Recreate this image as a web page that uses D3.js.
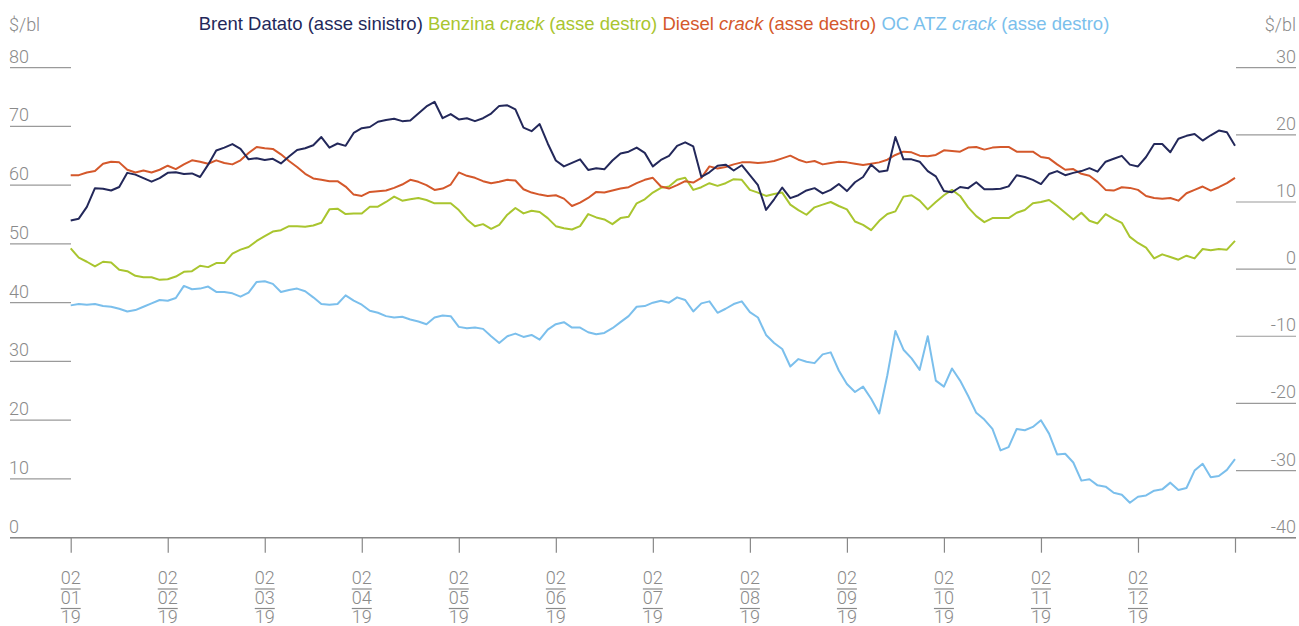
<!DOCTYPE html>
<html>
<head>
<meta charset="utf-8">
<style>
  body { margin: 0; background: #fff; }
  text { font-family: "Liberation Sans", Arial, sans-serif; }
  .ax { font-family: Roboto, "Liberation Sans", sans-serif; font-weight: 300; }
</style>
</head>
<body>
<div id="chart"></div>
<script src="https://cdnjs.cloudflare.com/ajax/libs/d3/7.8.5/d3.min.js"></script>
<script>
// month ticks (day / month / year)
var tickDays = ["02","02","02","02","02","02","02","02","02","02","02","02"];
var tickMonths = ["01","02","03","04","05","06","07","08","09","10","11","12"];
var tickYears = ["19","19","19","19","19","19","19","19","19","19","19","19"];
var leftTicks = [0, 10, 20, 30, 40, 50, 60, 70, 80];
var rightTicks = [-40, -30, -20, -10, 0, 10, 20, 30];

// samples every 1/12 of a month, 02/01/19 -> end of 2019
var brent = [54.0,54.3,56.3,59.5,59.4,59.1,59.7,62.1,61.8,61.2,60.6,61.2,
  62.1,62.2,61.9,62.0,61.4,63.5,65.9,66.4,67.0,66.2,64.4,64.6,
  64.3,64.5,63.7,64.9,66.0,66.3,66.8,68.2,66.4,67.1,66.7,68.9,
  69.7,69.9,70.8,71.1,71.3,70.9,71.0,72.2,73.4,74.2,71.4,72.1,
  71.2,71.4,70.9,71.4,72.2,73.5,73.6,72.9,69.8,69.2,70.4,67.1,
  64.2,63.2,63.8,64.4,62.6,62.9,62.7,64.2,65.4,65.7,66.4,65.5,
  63.2,64.3,65.0,66.7,67.3,66.6,61.4,62.2,63.3,63.5,62.5,63.4,
  61.7,60.0,55.8,57.6,59.6,57.8,58.3,59.1,59.5,58.6,59.2,60.2,
  59.0,60.5,61.4,63.5,62.3,62.5,68.2,64.4,64.4,64.0,62.4,61.5,
  59.0,58.8,59.7,59.5,60.5,59.3,59.3,59.4,59.8,61.7,61.4,60.9,
  60.2,61.9,62.4,61.7,62.1,62.4,62.9,62.3,64.0,64.5,65.0,63.5,
  63.2,64.8,67.0,67.0,65.6,67.9,68.4,68.7,67.6,68.5,69.3,69.0,66.7];

var benzina = [3.1,1.7,1.1,0.4,1.1,1.0,-0.1,-0.3,-1.0,-1.2,-1.2,-1.6,
  -1.5,-1.1,-0.4,-0.3,0.5,0.3,0.9,0.9,2.3,2.9,3.3,4.2,
  4.9,5.6,5.8,6.4,6.4,6.3,6.5,6.9,8.9,9.0,8.2,8.3,
  8.3,9.3,9.3,10.0,10.8,10.2,10.4,10.6,10.3,9.8,9.8,9.8,
  8.8,7.4,6.4,6.7,6.0,6.6,8.1,9.1,8.3,8.7,8.5,7.6,
  6.4,6.1,5.9,6.4,8.2,7.7,7.4,6.7,7.6,7.8,9.8,10.4,
  11.4,12.1,12.3,13.3,13.6,11.8,12.2,12.8,12.4,12.8,13.4,13.3,
  11.8,11.4,10.9,11.2,11.4,9.6,8.8,8.1,9.2,9.6,10.0,9.4,
  8.9,7.1,6.6,5.8,7.2,8.2,8.6,10.8,11.0,10.2,8.9,10.0,
  11.0,11.8,10.9,9.2,7.9,7.0,7.6,7.6,7.6,8.4,8.8,9.8,
  10.0,10.3,9.4,8.4,7.4,8.4,7.2,6.8,8.2,7.5,6.9,4.8,
  3.9,3.2,1.6,2.2,1.8,1.4,2.0,1.6,3.0,2.8,3.0,2.9,4.2];

var diesel = [14.0,14.0,14.4,14.6,15.7,16.0,15.9,14.8,14.4,14.7,14.4,14.8,
  15.4,14.9,15.6,16.2,16.0,15.7,16.2,15.8,15.6,16.2,17.3,18.2,
  18.0,17.9,17.1,16.1,15.2,14.2,13.5,13.3,13.1,13.1,12.3,11.1,
  10.9,11.5,11.6,11.7,12.1,12.6,13.3,13.0,12.5,11.8,12.0,12.6,
  14.4,13.9,13.6,13.1,12.8,13.0,13.3,13.2,11.9,11.4,11.1,10.9,
  11.0,10.5,9.4,9.9,10.6,11.5,11.4,11.7,12.0,12.2,12.8,13.3,
  13.6,12.3,12.0,12.5,13.1,12.9,13.6,15.3,15.0,15.2,15.6,15.9,
  15.9,15.8,15.9,16.1,16.5,16.9,16.3,15.9,16.1,15.6,15.8,16.0,
  15.9,15.7,15.5,15.7,15.9,16.3,17.0,17.5,17.4,16.9,16.8,17.0,
  17.7,17.6,17.5,18.1,18.2,17.8,18.1,18.2,18.2,17.5,17.5,17.5,
  16.7,16.5,15.6,14.8,14.9,14.2,13.9,13.0,11.8,11.7,12.2,12.1,
  11.8,10.9,10.6,10.5,10.6,10.2,11.3,11.8,12.3,11.7,12.2,12.8,13.6];

var ocAtz = [-5.4,-5.2,-5.3,-5.2,-5.5,-5.6,-5.9,-6.3,-6.1,-5.6,-5.1,-4.6,
  -4.7,-4.3,-2.5,-3.0,-2.9,-2.6,-3.4,-3.4,-3.6,-4.1,-3.5,-1.9,
  -1.8,-2.2,-3.4,-3.1,-2.9,-3.3,-4.2,-5.2,-5.3,-5.2,-3.9,-4.7,
  -5.3,-6.2,-6.5,-7.0,-7.2,-7.1,-7.5,-7.8,-8.2,-7.2,-6.9,-7.0,
  -8.6,-8.8,-8.7,-8.9,-10.0,-11.0,-10.0,-9.6,-10.1,-9.8,-10.5,-9.0,
  -8.2,-7.9,-8.7,-8.7,-9.4,-9.7,-9.5,-8.8,-7.9,-7.0,-5.6,-5.5,
  -5.0,-4.7,-5.0,-4.2,-4.6,-6.3,-5.1,-4.8,-6.5,-5.9,-5.2,-4.8,
  -6.4,-7.2,-9.8,-11.0,-11.9,-14.5,-13.4,-13.8,-14.0,-12.7,-12.4,-15.1,
  -17.1,-18.3,-17.5,-19.3,-21.5,-15.8,-9.2,-12.0,-13.3,-15.0,-10.0,-16.6,
  -17.5,-14.8,-16.6,-18.9,-21.4,-22.4,-23.8,-27.0,-26.5,-23.8,-24.0,-23.5,
  -22.5,-24.5,-27.6,-27.5,-28.8,-31.5,-31.3,-32.2,-32.4,-33.3,-33.6,-34.8,
  -33.9,-33.7,-33.0,-32.8,-31.8,-32.9,-32.6,-30.0,-29.0,-31.0,-30.8,-29.9,-28.3];

var colors = { brent: "#23285a", benzina: "#a9c52f", diesel: "#d4582b", ocAtz: "#7bbfec" };
var textGray = "#8a8a8a", lineGray = "#9a9a9a";

var width = 1299, height = 626;
var svg = d3.select("#chart").append("svg")
    .attr("width", width)
    .attr("height", height);

var x = d3.scaleLinear().domain([0, 12]).range([70.7, 1235]);
var yL = d3.scaleLinear().domain([0, 80]).range([537.7, 67.7]);
var yR = d3.scaleLinear().domain([-40, 30]).range([537.7, 67.7]);
var step = 1 / 12;

// left gridlines + labels
var gl = svg.append("g");
gl.selectAll("line").data(leftTicks).enter().append("line")
    .attr("x1", 10).attr("x2", 71)
    .attr("y1", function (d) { return yL(d); })
    .attr("y2", function (d) { return yL(d); })
    .attr("stroke", lineGray).attr("stroke-width", 1.2);
gl.selectAll("text").data(leftTicks).enter().append("text")
    .attr("class", "ax")
    .attr("x", 9)
    .attr("y", function (d) { return yL(d) - 5; })
    .attr("fill", textGray).style("font-size", "18px")
    .text(function (d) { return d; });

// right gridlines + labels
var gr = svg.append("g");
gr.selectAll("line").data(rightTicks).enter().append("line")
    .attr("x1", 1236).attr("x2", 1296)
    .attr("y1", function (d) { return yR(d); })
    .attr("y2", function (d) { return yR(d); })
    .attr("stroke", lineGray).attr("stroke-width", 1.2);
gr.selectAll("text").data(rightTicks).enter().append("text")
    .attr("class", "ax")
    .attr("x", 1296)
    .attr("y", function (d) { return yR(d) - 5; })
    .attr("text-anchor", "end")
    .attr("fill", textGray).style("font-size", "18px")
    .text(function (d) { return d; });

// units
svg.append("text").attr("class", "ax").attr("x", 9).attr("y", 31)
    .attr("fill", textGray).style("font-size", "18px").text("$/bl");
svg.append("text").attr("class", "ax").attr("x", 1296).attr("y", 31).attr("text-anchor", "end")
    .attr("fill", textGray).style("font-size", "18px").text("$/bl");

// x axis
var xAxis = svg.append("g")
    .attr("transform", "translate(0,537.7)")
    .call(d3.axisBottom(x).tickValues(d3.range(0, 13)).tickSize(15).tickFormat(""));
xAxis.select(".domain").remove();
xAxis.selectAll("line").attr("stroke", "#888").attr("stroke-width", 1.2);
svg.append("line")
    .attr("x1", 10).attr("x2", 1296)
    .attr("y1", 537.7).attr("y2", 537.7)
    .attr("stroke", "#888").attr("stroke-width", 1.4);

var lab = svg.append("g").selectAll("g").data(tickMonths).enter().append("g")
    .attr("transform", function (d, i) { return "translate(" + x(i) + ",0)"; });
lab.append("text").attr("class", "ax").attr("y", 584).attr("text-anchor", "middle")
    .attr("fill", textGray).style("font-size", "18px")
    .text(function (d, i) { return tickDays[i]; });
lab.append("text").attr("class", "ax").attr("y", 603.5).attr("text-anchor", "middle")
    .attr("fill", textGray).style("font-size", "18px")
    .text(function (d) { return d; });
lab.append("text").attr("class", "ax").attr("y", 623).attr("text-anchor", "middle")
    .attr("fill", textGray).style("font-size", "18px")
    .text(function (d, i) { return tickYears[i]; });
lab.append("line").attr("x1", -10).attr("x2", 10).attr("y1", 589).attr("y2", 589)
    .attr("stroke", textGray).attr("stroke-width", 1.2);
lab.append("line").attr("x1", -10).attr("x2", 10).attr("y1", 608.5).attr("y2", 608.5)
    .attr("stroke", textGray).attr("stroke-width", 1.2);

// series
function drawLine(data, scale, color) {
    svg.append("path")
        .datum(data)
        .attr("fill", "none")
        .attr("stroke", color)
        .attr("stroke-width", 2)
        .attr("stroke-linejoin", "round")
        .attr("d", d3.line()
            .x(function (d, i) { return x(i * step); })
            .y(function (d) { return scale(d); }));
}
drawLine(ocAtz, yR, colors.ocAtz);
drawLine(benzina, yR, colors.benzina);
drawLine(diesel, yR, colors.diesel);
drawLine(brent, yL, colors.brent);

// legend
var leg = svg.append("text")
    .attr("x", 654).attr("y", 30)
    .attr("text-anchor", "middle")
    .style("font-size", "18.5px");
var legendParts = [
    ["Brent Datato (asse sinistro) ", colors.brent, false],
    ["Benzina ", colors.benzina, false], ["crack", colors.benzina, true], [" (asse destro) ", colors.benzina, false],
    ["Diesel ", colors.diesel, false], ["crack", colors.diesel, true], [" (asse destro) ", colors.diesel, false],
    ["OC ATZ ", colors.ocAtz, false], ["crack", colors.ocAtz, true], [" (asse destro)", colors.ocAtz, false]
];
legendParts.forEach(function (p) {
    leg.append("tspan")
        .attr("fill", p[1])
        .style("font-style", p[2] ? "italic" : "normal")
        .style("white-space", "pre")
        .text(p[0]);
});
</script>
</body>
</html>
